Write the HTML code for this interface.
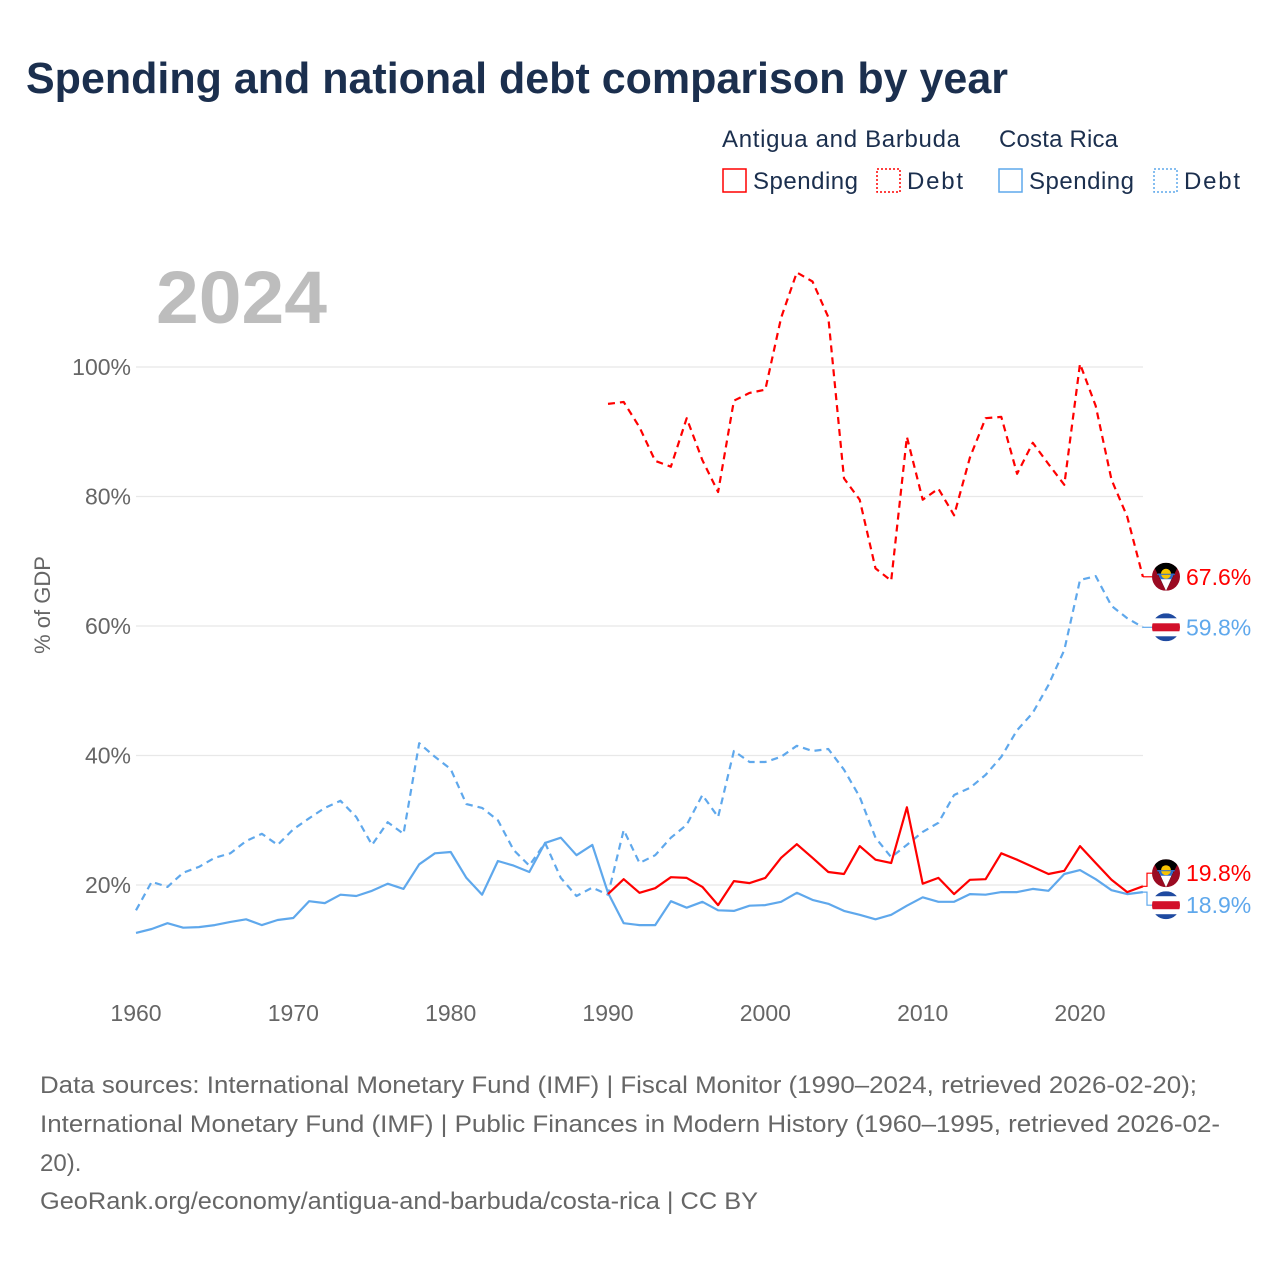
<!DOCTYPE html>
<html><head><meta charset="utf-8"><style>
body{margin:0;background:#fff;font-family:"Liberation Sans",sans-serif}
#wrap{position:relative;width:1280px;height:1280px;overflow:hidden}
</style></head><body><div id="wrap">
<svg id="chart" width="1280" height="1280" style="position:absolute;left:0;top:0;font-family:'Liberation Sans',sans-serif">
<defs>
<clipPath id="c1"><circle cx="0" cy="0" r="14"/></clipPath>
</defs>
<text x="26" y="93" font-size="44" font-weight="bold" fill="#1b2f4e" textLength="982" lengthAdjust="spacingAndGlyphs">Spending and national debt comparison by year</text>
<text x="722" y="147" font-size="24" fill="#1b2f4e" textLength="238">Antigua and Barbuda</text>
<text x="999" y="147" font-size="24" fill="#1b2f4e" textLength="119">Costa Rica</text>
<g><rect x="723" y="169" width="23" height="23" fill="none" stroke="#f00" stroke-width="1.5"/><text x="753" y="189" font-size="24" fill="#1b2f4e" textLength="105">Spending</text></g>
<g><rect x="877" y="169" width="23" height="23" fill="none" stroke="#f00" stroke-width="1.5" stroke-dasharray="2,2"/><text x="907" y="189" font-size="24" fill="#1b2f4e" textLength="56">Debt</text></g>
<g><rect x="999" y="169" width="23" height="23" fill="none" stroke="#5fa8ec" stroke-width="1.5"/><text x="1029" y="189" font-size="24" fill="#1b2f4e" textLength="105">Spending</text></g>
<g><rect x="1154" y="169" width="23" height="23" fill="none" stroke="#5fa8ec" stroke-width="1.5" stroke-dasharray="2,2"/><text x="1184" y="189" font-size="24" fill="#1b2f4e" textLength="56">Debt</text></g>
<text x="156" y="323" font-size="74" font-weight="bold" fill="#bdbdbd" textLength="171" lengthAdjust="spacingAndGlyphs">2024</text>
<text transform="translate(50,605) rotate(-90)" text-anchor="middle" font-size="22" fill="#666">% of GDP</text>
<g id="grid"></g><g id="xt"></g><g id="series"></g><g id="ends"></g>
<text x="40" y="1093" font-size="24" fill="#666" textLength="1157" lengthAdjust="spacingAndGlyphs">Data sources: International Monetary Fund (IMF) | Fiscal Monitor (1990–2024, retrieved 2026-02-20);</text>
<text x="40" y="1132" font-size="24" fill="#666" textLength="1180" lengthAdjust="spacingAndGlyphs">International Monetary Fund (IMF) | Public Finances in Modern History (1960–1995, retrieved 2026-02-</text>
<text x="40" y="1171" font-size="24" fill="#666">20).</text>
<text x="40" y="1209" font-size="24" fill="#666" textLength="718" lengthAdjust="spacingAndGlyphs">GeoRank.org/economy/antigua-and-barbuda/costa-rica | CC BY</text>
</svg>
<script>
const yTicks=[20,40,60,80,100];
const xTicks=[1960,1970,1980,1990,2000,2010,2020];
const crYears0=1960;
const agYears0=1990;
const crDebt=[16.1,20.5,19.7,21.9,22.8,24.2,24.9,26.8,27.9,26.2,28.6,30.3,31.9,33.0,30.5,26.2,29.7,27.9,41.9,39.8,37.9,32.5,31.9,30.0,25.4,23.0,26.5,21.1,18.3,19.6,18.5,28.5,23.4,24.6,27.3,29.3,33.9,30.5,40.7,39.0,39.0,39.8,41.5,40.7,41.0,37.8,33.6,27.3,24.3,26.2,28.2,29.6,33.9,35.0,37.0,39.8,43.9,46.6,50.9,56.3,67.1,67.7,63.1,61.2,59.8];
const crSpend=[12.6,13.2,14.1,13.4,13.5,13.8,14.3,14.7,13.8,14.6,14.9,17.5,17.2,18.5,18.3,19.1,20.2,19.4,23.2,24.9,25.1,21.1,18.5,23.7,23.0,22.0,26.5,27.3,24.6,26.2,18.8,14.1,13.8,13.8,17.5,16.5,17.4,16.1,16.0,16.8,16.9,17.4,18.8,17.7,17.1,16.0,15.4,14.7,15.4,16.8,18.1,17.4,17.4,18.6,18.5,18.9,18.9,19.4,19.1,21.7,22.3,20.9,19.2,18.6,18.9];
const agDebt=[94.3,94.6,90.7,85.5,84.6,92.1,85.6,80.7,94.8,96.0,96.5,107.6,114.6,113.2,107.7,82.8,79.5,68.9,67.0,89.2,79.5,81.2,77.1,86.0,92.1,92.3,83.5,88.3,85.0,81.8,100.5,94.0,82.6,76.9,67.6];
const agSpend=[18.6,20.9,18.8,19.5,21.2,21.1,19.7,16.9,20.6,20.3,21.1,24.2,26.3,24.2,22.0,21.7,26.0,23.9,23.4,32.0,20.2,21.1,18.6,20.8,20.9,24.9,23.9,22.8,21.7,22.2,26.0,23.4,20.8,18.9,19.8];
const NS="http://www.w3.org/2000/svg";
const X=y=>136+(y-1960)*(1080-136)/60;
const Y=v=>1014.5-v*6.475;
function mk(t,a,p){const e=document.createElementNS(NS,t);for(const k in a)e.setAttribute(k,a[k]);p.appendChild(e);return e;}
const grid=document.getElementById('grid');
yTicks.forEach(v=>{
 const l=mk('line',{x1:136,x2:1143,y1:Y(v),y2:Y(v),stroke:'#e8e8e8','stroke-width':1.2},grid);
 
 
 const t=mk('text',{x:131,y:Y(v)+8,'text-anchor':'end','font-size':23,fill:'#666'},grid);
 t.textContent=v+'%';
 
 
});
const xt=document.getElementById('xt');
xTicks.forEach(v=>{
 const t=mk('text',{x:X(v),y:1021,'text-anchor':'middle','font-size':23,fill:'#666'},xt);
 t.textContent=v;
 
 
});
const ser=document.getElementById('series');
function line(arr,y0,col,dash,name){
 const d=arr.map((v,i)=>(i?'L':'M')+X(y0+i).toFixed(1)+','+Y(v).toFixed(1)).join('');
 const p=mk('path',{d:d,fill:'none',stroke:col,'stroke-width':2.2,'stroke-linejoin':'round'},ser);
 if(dash)p.setAttribute('stroke-dasharray','7,5');
 
 
}
line(crDebt,crYears0,'#5fa8ec',true,'costa-rica-debt-line');
line(crSpend,crYears0,'#5fa8ec',false,'costa-rica-spending-line');
line(agDebt,agYears0,'#ff0000',true,'antigua-debt-line');
line(agSpend,agYears0,'#ff0000',false,'antigua-spending-line');
const ends=document.getElementById('ends');
function flag(cx,cy,type,name){
 const g=mk('g',{transform:`translate(${cx},${cy})`},ends);
 
 
 const c=mk('g',{'clip-path':'url(#c1)'},g);
 if(type==='ag'){
  mk('rect',{x:-14,y:-14,width:28,height:28,fill:'#9b0a22'},c);
  mk('polygon',{points:'-14,-14 14,-14 0,14',fill:'#000'},c);
  mk('polygon',{points:'-8,-3 8,-3 0,14',fill:'#fff'},c);
  mk('polygon',{points:'-8,-3 8,-3 5.3,2.5 -5.3,2.5',fill:'#2a6bd1'},c);
  mk('circle',{cx:0,cy:-3,r:5,fill:'#f7c400'},c);
  mk('rect',{x:-9,y:-3,width:18,height:1,fill:'#2a6bd1'},c);
 }else{
  mk('rect',{x:-14,y:-14,width:28,height:28,fill:'#fff'},c);
  mk('rect',{x:-14,y:-14,width:28,height:5,fill:'#1f4aa0'},c);
  mk('rect',{x:-14,y:9,width:28,height:5,fill:'#1f4aa0'},c);
  mk('rect',{x:-14,y:-4,width:28,height:8,fill:'#d2102a'},c);
 }
}
function endLabel(v,y0,arr,col,type,ly,name){
 const ex=X(y0+arr.length-1),ey=Y(v);
 const p=mk('path',{d:`M${ex},${ey}H1147V${ly}H1152`,fill:'none',stroke:col,'stroke-width':1.2},ends);
 
 
 flag(1166,ly,type,name+'-flag');
 const t=mk('text',{x:1186,y:ly+8,'font-size':23,fill:col},ends);
 t.textContent=v.toFixed(1)+'%';
 
 
}
const agD=agDebt[agDebt.length-1],crD=crDebt[crDebt.length-1],agS=agSpend[agSpend.length-1],crS=crSpend[crSpend.length-1];
endLabel(agD,agYears0,agDebt,'#ff0000','ag',Y(agD),'antigua-debt-end');
endLabel(crD,crYears0,crDebt,'#5fa8ec','cr',Y(crD),'costa-rica-debt-end');
const hi=Math.min(Y(agS),Y(crS)),lo=Math.max(Y(agS),Y(crS));
const mid=(hi+lo)/2;
const agLy=Math.min(Y(agS),mid-16),crLy=Math.max(Y(crS),mid+16);
endLabel(agS,agYears0,agSpend,'#ff0000','ag',agLy,'antigua-spending-end');
endLabel(crS,crYears0,crSpend,'#5fa8ec','cr',crLy,'costa-rica-spending-end');
</script>
</div></body></html>
